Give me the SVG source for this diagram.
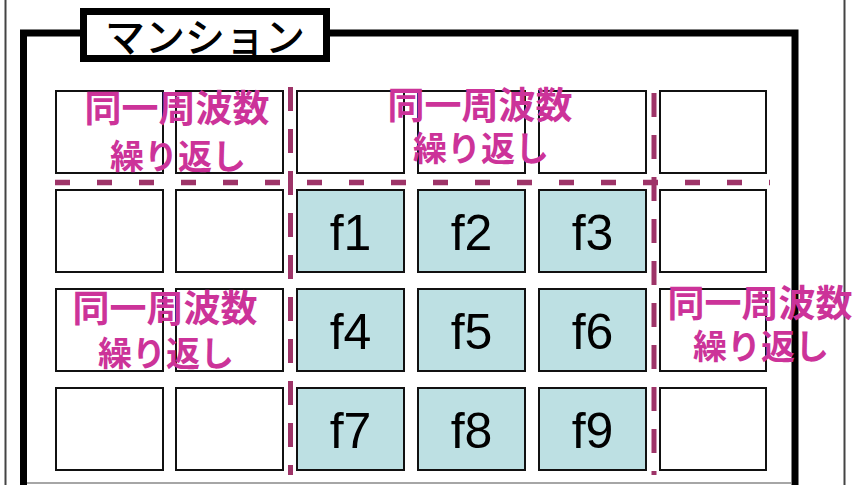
<svg xmlns="http://www.w3.org/2000/svg" width="863" height="485" viewBox="0 0 863 485">
<style>
.cell{fill:#fff;stroke:#111;stroke-width:2}
.f{fill:#bde0e3;stroke:#111;stroke-width:2}
.fl{font-family:"Liberation Sans",Arial,sans-serif;font-size:50px;fill:#000;text-anchor:middle}
.pk{font-family:"Noto Sans CJK JP",sans-serif;font-weight:700;fill:#cc3399;text-anchor:middle}
.l1{font-size:37px}
.l2{font-size:34px}
.dh{stroke:#9e3468;stroke-width:5.5;fill:none;stroke-dasharray:15 27}
.dv{stroke:#9e3468;stroke-width:5;fill:none;stroke-dasharray:24 18}
</style>
<rect width="863" height="485" fill="#fff"/>
<g id="outer">
<line x1="5.5" y1="0" x2="5.5" y2="485" stroke="#444" stroke-width="2"/>
<line x1="844.5" y1="0" x2="844.5" y2="485" stroke="#444" stroke-width="2"/>
</g>
<g id="frame">
<rect x="23.5" y="33" width="771.5" height="480" fill="none" stroke="#000" stroke-width="7"/>
<line x1="27" y1="483" x2="792" y2="483" stroke="#888" stroke-width="1.5"/>
</g>
<g id="title">
<rect x="83.5" y="11.5" width="243" height="47" fill="#fff" stroke="#000" stroke-width="7"/>
<text x="205" y="52" font-family="'Noto Sans CJK JP',sans-serif" font-size="40" font-weight="500" text-anchor="middle" fill="#000">マンション</text>
</g>
<g id="cells">
<rect class="cell" x="56" y="91" width="107" height="82"/>
<rect class="cell" x="176" y="91" width="107" height="82"/>
<rect class="cell" x="297" y="91" width="107" height="82"/>
<rect class="cell" x="418" y="91" width="107" height="82"/>
<rect class="cell" x="539" y="91" width="107" height="82"/>
<rect class="cell" x="660" y="91" width="106" height="82"/>
<rect class="cell" x="56" y="190" width="107" height="82"/>
<rect class="cell" x="176" y="190" width="107" height="82"/>
<rect class="cell" x="660" y="190" width="106" height="82"/>
<rect class="cell" x="56" y="289" width="107" height="82"/>
<rect class="cell" x="176" y="289" width="107" height="82"/>
<rect class="cell" x="660" y="289" width="106" height="82"/>
<rect class="cell" x="56" y="388" width="107" height="82"/>
<rect class="cell" x="176" y="388" width="107" height="82"/>
<rect class="cell" x="660" y="388" width="106" height="82"/>
</g>
<g id="f1"><rect class="f" x="297" y="190" width="107" height="82"/><text class="fl" x="350.5" y="250">f1</text></g>
<g id="f2"><rect class="f" x="418" y="190" width="107" height="82"/><text class="fl" x="471.5" y="250">f2</text></g>
<g id="f3"><rect class="f" x="539" y="190" width="107" height="82"/><text class="fl" x="592.5" y="250">f3</text></g>
<g id="f4"><rect class="f" x="297" y="289" width="107" height="82"/><text class="fl" x="350.5" y="349">f4</text></g>
<g id="f5"><rect class="f" x="418" y="289" width="107" height="82"/><text class="fl" x="471.5" y="349">f5</text></g>
<g id="f6"><rect class="f" x="539" y="289" width="107" height="82"/><text class="fl" x="592.5" y="349">f6</text></g>
<g id="f7"><rect class="f" x="297" y="388" width="107" height="82"/><text class="fl" x="350.5" y="448">f7</text></g>
<g id="f8"><rect class="f" x="418" y="388" width="107" height="82"/><text class="fl" x="471.5" y="448">f8</text></g>
<g id="f9"><rect class="f" x="539" y="388" width="107" height="82"/><text class="fl" x="592.5" y="448">f9</text></g>
<g id="connectors">
<line class="dh" x1="55" y1="182.5" x2="770" y2="182.5"/>
<line class="dv" x1="290.5" y1="87" x2="290.5" y2="475"/>
<line class="dv" x1="654" y1="93" x2="654" y2="475"/>
</g>
<g id="label-tl"><text class="pk l1" x="177" y="122">同一周波数</text><text class="pk l2" x="178" y="169">繰り返し</text></g>
<g id="label-tc"><text class="pk l1" x="480" y="119">同一周波数</text><text class="pk l2" x="481" y="161">繰り返し</text></g>
<g id="label-ml"><text class="pk l1" x="165" y="322">同一周波数</text><text class="pk l2" x="166" y="366">繰り返し</text></g>
<g id="label-mr"><text class="pk l1" x="760" y="317">同一周波数</text><text class="pk l2" x="761" y="359">繰り返し</text></g>
</svg>
